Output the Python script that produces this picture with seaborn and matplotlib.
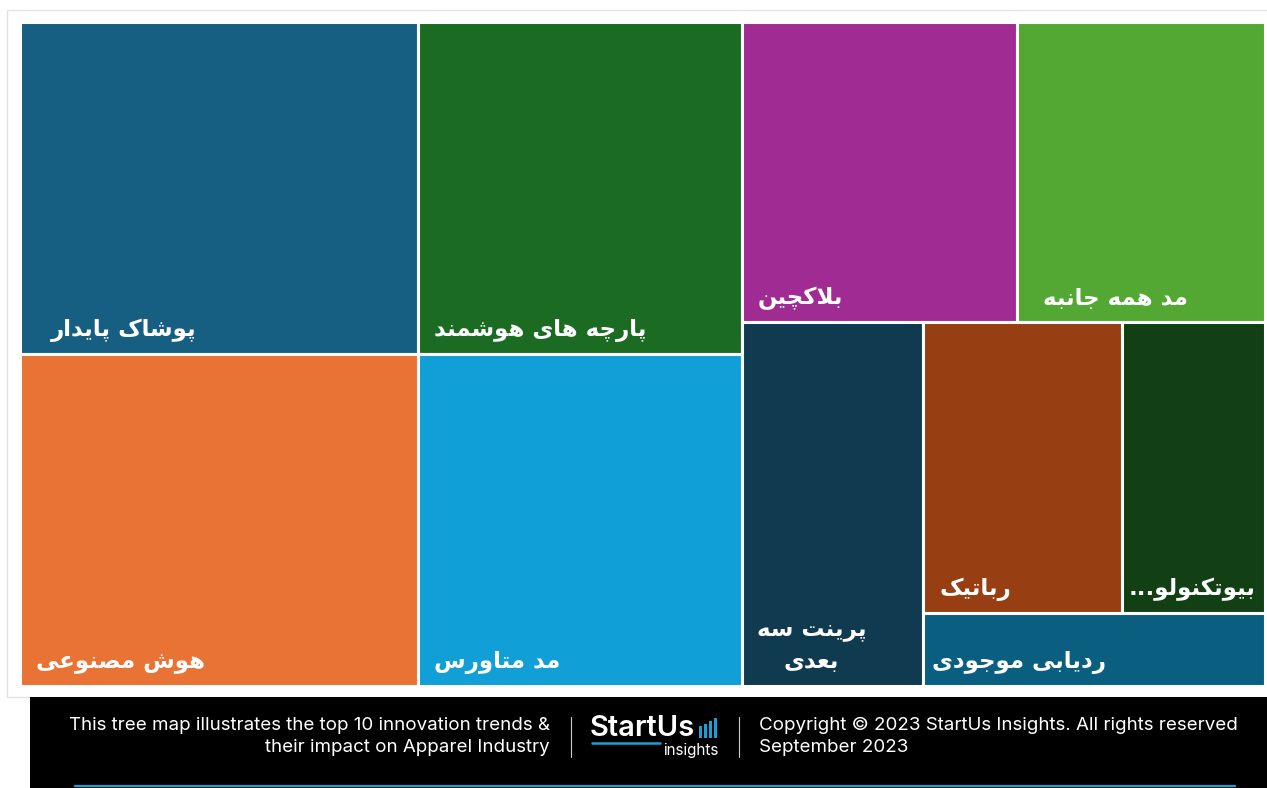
import seaborn as sns
import pandas as pd
import matplotlib.pyplot as plt
from matplotlib.patches import Rectangle

# --- data ---
labels = ['پوشاک پایدار', 'هوش مصنوعی', 'پارچه های هوشمند', 'مد متاورس',
          'بلاکچین', 'مد همه جانبه', 'پرینت سه\nبعدی', 'رباتیک',
          'بیوتکنولو...', 'ردیابی موجودی']
values = [16, 16, 13, 13, 10, 9, 8, 7, 5, 3]
colors = ['#175F82', '#E97334', '#1B6B23', '#119FD7', '#A02C93',
          '#52A832', '#0F3A50', '#973F12', '#133F15', '#0A5F80']
# row breaks of the squarified layout
rows = [[0, 1], [2, 3], [4, 5], [6], [7, 8], [9]]

footer_left = ['This tree map illustrates the top 10 innovation trends &',
               'their impact on Apparel Industry']
footer_right = ['Copyright © 2023 StartUs Insights. All rights reserved',
                'September 2023']

# --- tiny Persian shaper (matplotlib has no complex text layout) ---
FORMS = {  # isolated, final, initial, medial
    'ا': ('\uFE8D', '\uFE8E', None, None),
    'ب': ('\uFE8F', '\uFE90', '\uFE91', '\uFE92'),
    'پ': ('\uFB56', '\uFB57', '\uFB58', '\uFB59'),
    'ت': ('\uFE95', '\uFE96', '\uFE97', '\uFE98'),
    'ج': ('\uFE9D', '\uFE9E', '\uFE9F', '\uFEA0'),
    'چ': ('\uFB7A', '\uFB7B', '\uFB7C', '\uFB7D'),
    'د': ('\uFEA9', '\uFEAA', None, None),
    'ر': ('\uFEAD', '\uFEAE', None, None),
    'ژ': ('\uFB8A', '\uFB8B', None, None),
    'س': ('\uFEB1', '\uFEB2', '\uFEB3', '\uFEB4'),
    'ش': ('\uFEB5', '\uFEB6', '\uFEB7', '\uFEB8'),
    'ص': ('\uFEB9', '\uFEBA', '\uFEBB', '\uFEBC'),
    'ع': ('\uFEC9', '\uFECA', '\uFECB', '\uFECC'),
    'ک': ('\uFB8E', '\uFB8F', '\uFB90', '\uFB91'),
    'ل': ('\uFEDD', '\uFEDE', '\uFEDF', '\uFEE0'),
    'م': ('\uFEE1', '\uFEE2', '\uFEE3', '\uFEE4'),
    'ن': ('\uFEE5', '\uFEE6', '\uFEE7', '\uFEE8'),
    'و': ('\uFEED', '\uFEEE', None, None),
    'ه': ('\uFEE9', '\uFEEA', '\uFEEB', '\uFEEC'),
    'ی': ('\uFBFC', '\uFBFD', '\uFBFE', '\uFBFF'),
}


def shape_line(s):
    out, i, n = [], 0, len(s)
    while i < n:
        c = s[i]
        if c not in FORMS:
            out.append(c)
            i += 1
            continue
        prev = s[i - 1] if i > 0 else None
        jp = prev in FORMS and FORMS[prev][2] is not None
        if c == 'ل' and i + 1 < n and s[i + 1] == 'ا':
            out.append('\uFEFC' if jp else '\uFEFB')
            i += 2
            continue
        nxt = s[i + 1] if i + 1 < n else None
        jn = FORMS[c][2] is not None and nxt in FORMS
        f = FORMS[c]
        out.append(f[3] if (jp and jn) else f[1] if jp else f[2] if jn else f[0])
        i += 1
    return ''.join(out)[::-1]


def shape(text):
    return '\n'.join(shape_line(l) for l in text.split('\n'))


# --- squarified layout from values ---
def layout(vals, rows, x, y, w, h):
    rects = [None] * len(vals)
    total = float(sum(vals))
    for row in rows:
        s = float(sum(vals[i] for i in row))
        if w >= h:
            cw = w * s / total
            yy = y
            for i in row:
                rh = h * vals[i] / s
                rects[i] = (x, yy, cw, rh)
                yy += rh
            x += cw
            w -= cw
        else:
            rh = h * s / total
            xx = x
            for i in row:
                cw = w * vals[i] / s
                rects[i] = (xx, y, cw, rh)
                xx += cw
            y += rh
            h -= rh
        total -= s
    return rects


W, H = 1267, 788
rects = layout(values, rows, 19.5, 21.5, 1245, 664)
df = pd.DataFrame(rects, columns=['x', 'y', 'w', 'h'])
df['label'] = labels
df['value'] = values

# label inset from the cell's left edge (px)
label_pad = [31, 16, 16, 16, 16, 26, 15, 16, 6, 9]

sns.set_theme(style='white')
pal = sns.color_palette(colors)

fig = plt.figure(figsize=(W / 100, H / 100), dpi=100)
ax = fig.add_axes([0, 0, 1, 1])
ax.set_xlim(0, W)
ax.set_ylim(H, 0)
ax.axis('off')

# outer panel
ax.add_patch(Rectangle((7, 10), 1265, 687, facecolor='white',
                       edgecolor='#e2e2e2', lw=1, zorder=0))

ax.bar(df['x'], df['h'], width=df['w'], bottom=df['y'], align='edge',
       color=pal, edgecolor='white', linewidth=2.2, zorder=2)

for k, r in df.iterrows():
    ax.text(r['x'] + label_pad[k], r['y'] + r['h'] - 12, shape(r['label']),
            color='white', fontsize=16.5, fontweight='bold',
            family=['DejaVu Sans'], ha='left', va='bottom',
            multialignment='center', linespacing=1.55, zorder=3)

# footer band
ax.add_patch(Rectangle((30, 697), 1240, 95, facecolor='black',
                       edgecolor='none', zorder=1))
ax.plot([75, 1235], [786, 786], color='#1A9FD9', lw=1.6, zorder=2)
ffont = ['Inter', 'DejaVu Sans']
for k, t in enumerate(footer_left):
    ax.text(550, 725 + 23 * k, t, color='white', fontsize=13.5, family=ffont,
            ha='right', va='center')
for k, t in enumerate(footer_right):
    ax.text(759, 725 + 23 * k, t, color='white', fontsize=13.5, family=ffont,
            ha='left', va='center')
for xs in (571, 739):
    ax.plot([xs, xs], [717, 757], color='#cccccc', lw=0.8)

# logo
ax.text(590, 729, 'StartUs', color='white', fontsize=21, fontweight='semibold',
        family=ffont, ha='left', va='center')
for j, bh in enumerate([12, 14, 17, 20]):
    ax.add_patch(Rectangle((699 + j * 5, 738 - bh), 3, bh,
                           facecolor='#1A9FD9', edgecolor='none'))
ax.plot([592, 660], [743, 743], color='#1A9FD9', lw=1.8)
ax.text(718, 750, 'insights', color='white', fontsize=11, family=ffont,
        ha='right', va='center')

fig.savefig('out.png', dpi=100)
